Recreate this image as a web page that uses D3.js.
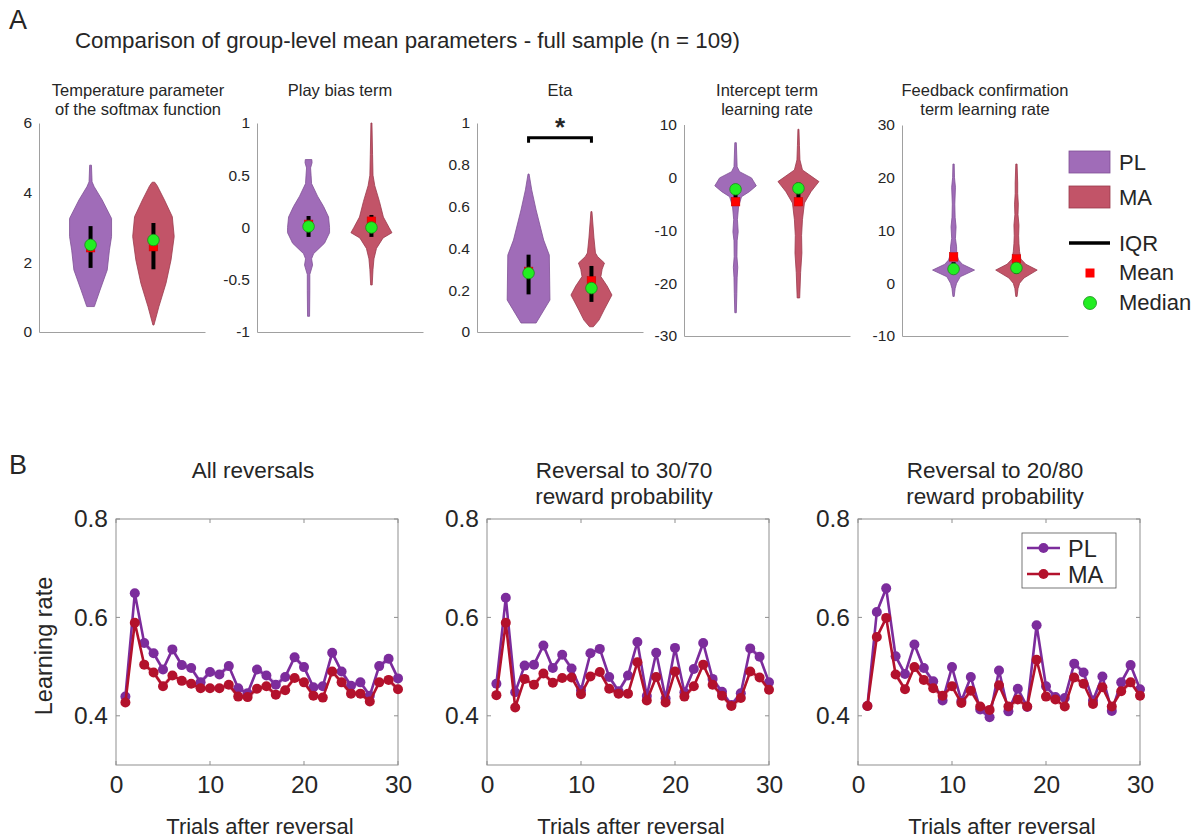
<!DOCTYPE html>
<html><head><meta charset="utf-8">
<script src="https://cdn.jsdelivr.net/npm/d3@7"></script>
<style>
body{margin:0;background:#fff}
text{font-family:"Liberation Sans",Arial,Helvetica,sans-serif;fill:#262626}
</style>
</head><body><svg id="c" width="1195" height="838"></svg>
<script>
// ---------- DATA: panel A (violins) ----------
const paramTitles = [["Temperature parameter","of the softmax function"],["Play bias term"],["Eta"],["Intercept term","learning rate"],["Feedback confirmation","term learning rate"]];
const paramDomains = [[0,6],[-1,1],[0,1],[-30,10],[-10,30]];
const paramTicks = [[0,2,4,6],[-1,-0.5,0,0.5,1],[0,0.2,0.4,0.6,0.8,1],[-30,-20,-10,0,10],[-10,0,10,20,30]];
const groups = ["PL","MA"];
// violin outlines: [value, half-width in category units]
const violinPL = [
  [[0.73,0.06],[1.2,0.15],[1.78,0.265],[2.35,0.30],[2.74,0.334],[3.26,0.334],[3.79,0.185],[4.17,0.058],[4.31,0.024],[4.79,0.014]],
  [[-0.85,0.016],[-0.6,0.02],[-0.45,0.02],[-0.36,0.064],[-0.3,0.048],[-0.25,0.08],[-0.15,0.254],[-0.05,0.334],[0.0,0.334],[0.1,0.318],[0.2,0.24],[0.3,0.143],[0.42,0.048],[0.5,0.04],[0.57,0.032],[0.62,0.056],[0.65,0.052]],
  [[0.043,0.12],[0.153,0.34],[0.368,0.33],[0.44,0.24],[0.584,0.12],[0.68,0.05],[0.756,0.008]],
  [[-25.6,0.012],[-22,0.02],[-19,0.025],[-17,0.035],[-15,0.022],[-12,0.025],[-10.3,0.042],[-8,0.03],[-5.5,0.048],[-3.65,0.095],[-2.7,0.22],[-1.6,0.33],[-0.1,0.254],[1.07,0.064],[2,0.025],[6.56,0.012]],
  [[-2.5,0.01],[-1,0.025],[0,0.048],[1.24,0.107],[2.5,0.334],[3.6,0.14],[4.4,0.08],[5.5,0.05],[6.9,0.048],[8.5,0.03],[10.7,0.04],[12.5,0.025],[15,0.02],[18.2,0.03],[20,0.015],[22.6,0.01]]
];
const violinMA = [
  [[0.2,0.008],[0.73,0.087],[1.4,0.2],[2.07,0.28],[2.74,0.33],[3.31,0.30],[3.79,0.175],[4.2,0.06],[4.3,0.02]],
  [[-0.55,0.012],[-0.4,0.025],[-0.3,0.04],[-0.2,0.08],[-0.1,0.185],[-0.05,0.326],[0.0,0.28],[0.1,0.19],[0.25,0.127],[0.4,0.053],[0.5,0.025],[0.7,0.018],[1.0,0.008]],
  [[0.025,0.03],[0.057,0.12],[0.105,0.2],[0.177,0.326],[0.22,0.25],[0.265,0.15],[0.3,0.17],[0.33,0.207],[0.36,0.1],[0.378,0.064],[0.45,0.04],[0.576,0.008]],
  [[-22.8,0.02],[-18,0.035],[-14.3,0.055],[-11,0.05],[-8,0.064],[-4.85,0.095],[-2.7,0.2],[-0.8,0.326],[1.4,0.064],[3.3,0.024],[6,0.016],[9.1,0.008]],
  [[-2.5,0.01],[-1,0.025],[0,0.05],[1.0,0.12],[2.5,0.33],[3.6,0.15],[4.6,0.07],[6,0.05],[7.5,0.04],[9,0.035],[11,0.04],[13,0.025],[15,0.03],[17,0.02],[19,0.02],[22.6,0.01]]
];
const medianPL = [2.50, 0.01, 0.282, -2.26, 2.7];
const meanPL   = [2.42, 0.03, 0.29, -4.6, 5.0];
const iqrPL    = [[1.84,3.04],[-0.09,0.11],[0.18,0.37],[-4.2,-1.6],[1.8,4.0]];
const medianMA = [2.64, 0.0, 0.21, -2.07, 2.9];
const meanMA   = [2.45, 0.06, 0.245, -4.6, 4.6];
const iqrMA    = [[1.80,3.13],[-0.09,0.12],[0.144,0.316],[-4.2,-1.0],[1.8,4.0]];
const sigPanel = 2, sigLevel = 0.93, sigTick = 0.905;

// ---------- DATA: panel B (learning rate curves) ----------
const trials = d3.range(1, 31);
const curveTitles = [["All reversals"],["Reversal to 30/70","reward probability"],["Reversal to 20/80","reward probability"]];
const lrPL = [
  [0.439,0.649,0.548,0.527,0.494,0.535,0.503,0.497,0.468,0.489,0.484,0.501,0.456,0.446,0.494,0.482,0.463,0.479,0.519,0.499,0.458,0.460,0.528,0.490,0.461,0.468,0.441,0.501,0.516,0.476],
  [0.465,0.640,0.448,0.502,0.504,0.543,0.497,0.524,0.496,0.452,0.527,0.536,0.479,0.450,0.482,0.550,0.440,0.528,0.435,0.538,0.448,0.495,0.548,0.475,0.449,0.422,0.446,0.537,0.520,0.468],
  [0.420,0.611,0.659,0.521,0.485,0.545,0.497,0.470,0.431,0.499,0.430,0.479,0.413,0.397,0.492,0.409,0.455,0.418,0.584,0.460,0.438,0.436,0.506,0.488,0.431,0.480,0.410,0.468,0.503,0.454]
];
const lrMA = [
  [0.427,0.589,0.504,0.488,0.460,0.482,0.471,0.465,0.456,0.456,0.456,0.463,0.439,0.438,0.455,0.460,0.443,0.452,0.477,0.468,0.441,0.437,0.490,0.468,0.445,0.445,0.429,0.468,0.473,0.454],
  [0.442,0.589,0.417,0.475,0.463,0.486,0.467,0.477,0.478,0.444,0.480,0.489,0.455,0.445,0.445,0.509,0.431,0.479,0.427,0.490,0.439,0.460,0.504,0.463,0.441,0.420,0.436,0.490,0.478,0.453],
  [0.420,0.560,0.599,0.484,0.454,0.499,0.473,0.456,0.441,0.460,0.426,0.451,0.419,0.412,0.462,0.419,0.433,0.419,0.514,0.439,0.433,0.419,0.478,0.465,0.424,0.458,0.419,0.450,0.468,0.441]
];
const semLR = 0.006;
const lrTicksY = [0.4,0.6,0.8];
const lrTicksX = [0,10,20,30];

// ---------- STYLE ----------
const violinFill = {PL:"#a06cb8", MA:"#c25468"};
const violinEdge = {PL:"#7f5096", MA:"#9a3a4c"};
const lineCol = {PL:"#7c2c9c", MA:"#b3112c"};
const bandCol = {PL:"#c9a3dc", MA:"#eaa0ac"};
const axisGray = "#a0a0a0";
const FF = "'Liberation Sans',Arial,sans-serif";

const svg = d3.select("#c");

// ---------- Panel labels & main title ----------
svg.append("text").attr("x",9).attr("y",29).attr("font-size",27).text("A");
svg.append("text").attr("x",9).attr("y",474).attr("font-size",27).text("B");
svg.append("text").attr("x",75).attr("y",48).attr("font-size",22.3)
  .text("Comparison of group-level mean parameters - full sample (n = 109)");

// ---------- Panel A ----------
const aLeft = [39,257,477,684,902];
const aTopBot = [[123,332],[123,332],[123,332],[124.5,336],[125,336]];
const aW = 166;
const aTitleX = [138,340,560,767,985];

paramTitles.forEach((tl, i) => {
  const L = aLeft[i], [T, B] = [aTopBot[i][0], aTopBot[i][1]];
  const x = d3.scaleLinear().domain([0.18, 2.82]).range([L, L + aW]);
  const y = d3.scaleLinear().domain(paramDomains[i]).range([B, T]);
  const unit = x(1) - x(0);
  const g = svg.append("g");

  const ya = g.append("g").attr("transform",`translate(${L},0)`)
    .call(d3.axisLeft(y).tickValues(paramTicks[i]).tickSize(0).tickPadding(7).tickFormat(d => String(d)));
  ya.select(".domain").attr("stroke",axisGray);
  ya.selectAll("text").attr("font-size",15.5).attr("fill","#333").style("font-family",FF);
  const xa = g.append("g").attr("transform",`translate(0,${B})`)
    .call(d3.axisBottom(x).tickValues([]).tickSizeOuter(0));
  xa.select(".domain").attr("stroke",axisGray);

  tl.forEach((t, k) => {
    g.append("text").attr("x",aTitleX[i]).attr("y",96 + k*19).attr("text-anchor","middle")
      .attr("font-size",16.5).text(t);
  });

  const prof = {PL: violinPL[i], MA: violinMA[i]};
  const med = {PL: medianPL[i], MA: medianMA[i]};
  const mn = {PL: meanPL[i], MA: meanMA[i]};
  const iqr = {PL: iqrPL[i], MA: iqrMA[i]};
  groups.forEach((grp, j) => {
    const pos = j + 1;
    const area = d3.area().curve(d3.curveLinear)
      .y(d => y(d[0])).x0(d => x(pos) - d[1]*unit).x1(d => x(pos) + d[1]*unit);
    g.append("path").datum(prof[grp]).attr("d", area)
      .attr("fill", violinFill[grp]).attr("stroke", violinEdge[grp]).attr("stroke-width",0.8);
    g.append("line").attr("x1",x(pos)).attr("x2",x(pos))
      .attr("y1",y(iqr[grp][0])).attr("y2",y(iqr[grp][1]))
      .attr("stroke","#000").attr("stroke-width",4);
    g.append("rect").attr("x",x(pos)-4.3).attr("y",y(mn[grp])-4.3).attr("width",8.6).attr("height",8.6)
      .attr("fill","#f00").attr("stroke","#c00").attr("stroke-width",0.5);
    g.append("circle").attr("cx",x(pos)).attr("cy",y(med[grp])).attr("r",5.8)
      .attr("fill","#22ee22").attr("stroke","#1a8a1a").attr("stroke-width",0.8);
  });

  if (i === sigPanel) {
    const bp = d3.path();
    bp.moveTo(x(1), y(sigTick)); bp.lineTo(x(1), y(sigLevel)); bp.lineTo(x(2), y(sigLevel)); bp.lineTo(x(2), y(sigTick));
    g.append("path").attr("d", bp.toString()).attr("fill","none").attr("stroke","#000").attr("stroke-width",3);
    g.append("text").attr("x",(x(1)+x(2))/2).attr("y",y(sigLevel)-2).attr("text-anchor","middle")
      .attr("font-size",26).attr("font-weight","bold").attr("fill","#000").text("*");
  }
});

// legend A
const lgA = svg.append("g");
groups.forEach((grp, j) => {
  const yy = 151 + j*35;
  lgA.append("rect").attr("x",1069).attr("y",yy).attr("width",41).attr("height",22)
    .attr("fill",violinFill[grp]).attr("stroke",violinEdge[grp]).attr("stroke-width",0.8);
  lgA.append("text").attr("x",1119).attr("y",yy+19).attr("font-size",22).text(grp);
});
lgA.append("line").attr("x1",1069).attr("x2",1110).attr("y1",243).attr("y2",243).attr("stroke","#000").attr("stroke-width",3.5);
lgA.append("text").attr("x",1119).attr("y",251).attr("font-size",22).text("IQR");
lgA.append("rect").attr("x",1085.5).attr("y",268.5).attr("width",9).attr("height",9).attr("fill","#f00");
lgA.append("text").attr("x",1119).attr("y",280).attr("font-size",22).text("Mean");
lgA.append("circle").attr("cx",1090).attr("cy",303).attr("r",6.5).attr("fill","#22ee22").attr("stroke","#1a8a1a").attr("stroke-width",0.8);
lgA.append("text").attr("x",1119).attr("y",310).attr("font-size",22).text("Median");

// ---------- Panel B ----------
const bLeft = [116,487,858], bTop = 519, bBot = 765, bW = 282;
const boxGray = "#8f8f8f";
curveTitles.forEach((tl, i) => {
  const L = bLeft[i];
  const x = d3.scaleLinear().domain([0,30]).range([L, L + bW]);
  const y = d3.scaleLinear().domain([0.3,0.8]).range([bBot, bTop]);
  const g = svg.append("g");

  g.append("rect").attr("x",L).attr("y",bTop).attr("width",bW).attr("height",bBot-bTop)
    .attr("fill","#fff").attr("stroke",boxGray).attr("stroke-width",1);
  lrTicksX.forEach(t => {
    g.append("line").attr("x1",x(t)).attr("x2",x(t)).attr("y1",bBot).attr("y2",bBot-4).attr("stroke",boxGray);
    g.append("line").attr("x1",x(t)).attr("x2",x(t)).attr("y1",bTop).attr("y2",bTop+4).attr("stroke",boxGray);
  });
  lrTicksY.forEach(t => {
    g.append("line").attr("x1",L).attr("x2",L+4).attr("y1",y(t)).attr("y2",y(t)).attr("stroke",boxGray);
    g.append("line").attr("x1",L+bW).attr("x2",L+bW-4).attr("y1",y(t)).attr("y2",y(t)).attr("stroke",boxGray);
  });
  const ya = g.append("g").attr("transform",`translate(${L},0)`)
    .call(d3.axisLeft(y).tickValues(lrTicksY).tickSize(0).tickPadding(8).tickFormat(d3.format(".1f")));
  ya.select(".domain").remove();
  ya.selectAll("text").attr("font-size",24.5).attr("fill","#333").style("font-family",FF);
  const xa = g.append("g").attr("transform",`translate(0,${bBot})`)
    .call(d3.axisBottom(x).tickValues(lrTicksX).tickSize(0).tickPadding(11).tickFormat(d => String(d)));
  xa.select(".domain").remove();
  xa.selectAll("text").attr("font-size",24.5).attr("fill","#333").style("font-family",FF);

  tl.forEach((t, k) => {
    g.append("text").attr("x",L + bW/2 - 4).attr("y",478 + k*26).attr("text-anchor","middle").attr("font-size",22.5).text(t);
  });
  g.append("text").attr("x",L + bW/2 + 3).attr("y",834).attr("text-anchor","middle").attr("font-size",22).text("Trials after reversal");

  const series = {PL: lrPL[i], MA: lrMA[i]};
  groups.forEach(grp => {
    const vals = series[grp];
    const band = d3.area().x((d,k) => x(trials[k])).y0(d => y(d - semLR)).y1(d => y(d + semLR));
    g.append("path").datum(vals).attr("d", band).attr("fill", bandCol[grp]).attr("opacity",0.6);
  });
  groups.forEach(grp => {
    const vals = series[grp];
    const line = d3.line().x((d,k) => x(trials[k])).y(d => y(d));
    g.append("path").datum(vals).attr("d", line).attr("fill","none")
      .attr("stroke", lineCol[grp]).attr("stroke-width",2.6);
    g.selectAll(null).data(vals).enter().append("circle")
      .attr("cx",(d,k) => x(trials[k])).attr("cy", d => y(d)).attr("r",5).attr("fill", lineCol[grp]);
  });

  if (i === 2) {
    const lg = g.append("g");
    lg.append("rect").attr("x",1022).attr("y",533).attr("width",94).attr("height",55)
      .attr("fill","#fff").attr("stroke","#555").attr("stroke-width",0.8);
    groups.forEach((grp, j) => {
      const yy = 548 + j*26;
      lg.append("line").attr("x1",1027).attr("x2",1060).attr("y1",yy).attr("y2",yy).attr("stroke",lineCol[grp]).attr("stroke-width",2.6);
      lg.append("circle").attr("cx",1043.5).attr("cy",yy).attr("r",5).attr("fill",lineCol[grp]);
      lg.append("text").attr("x",1068).attr("y",yy+8.5).attr("font-size",23.5).text(grp);
    });
  }
});
svg.append("text").attr("transform","translate(52,646) rotate(-90)").attr("text-anchor","middle")
  .attr("font-size",23.5).text("Learning rate");
</script>
</body></html>
